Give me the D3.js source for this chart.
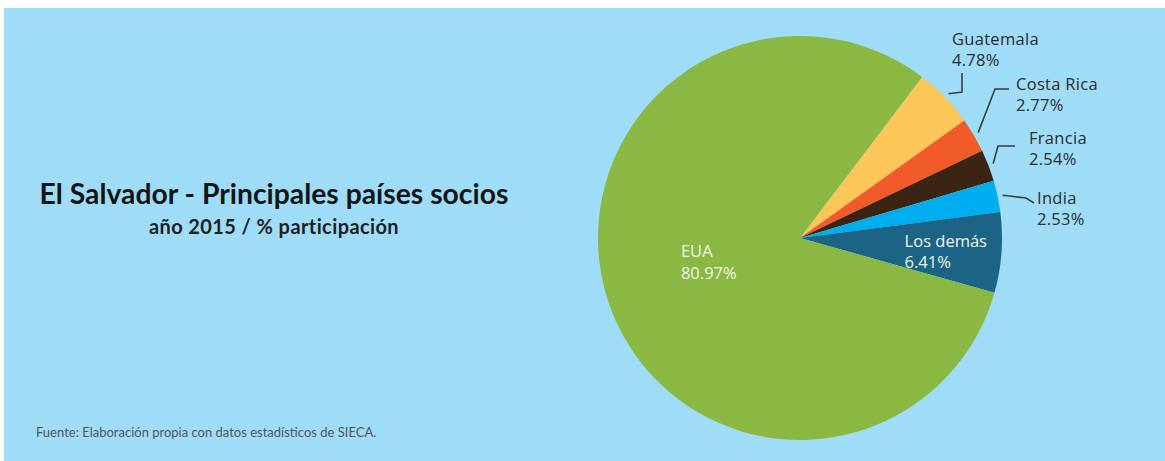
<!DOCTYPE html>
<html>
<head>
<meta charset="utf-8">
<script src="https://cdn.jsdelivr.net/npm/d3@7"></script>
<style>
  body { margin: 0; background: #fff; }
  svg { display: block; }
</style>
</head>
<body>
<div id="chart"></div>
<script>
const countries = ["Guatemala", "Costa Rica", "Francia", "India", "Los demás", "EUA"]
const shares = [4.78, 2.77, 2.54, 2.53, 6.41, 80.97]
const colors = ["#fdc659", "#f15a29", "#3c2415", "#00aeef", "#1b6486", "#8ab842"]

const title = "El Salvador - Principales países socios"
const subtitle = "año 2015 / % participación"
const source = "Fuente: Elaboración propia con datos estadísticos de SIECA."

const width = 1165, height = 461
const cx = 800, cy = 238, radius = 202

// where each label sits (outside ones get a leader line)
const labelLayout = [
  {x: 952, y: 45, outside: true, path: [[10, 47], [10, 28]]},
  {x: 1016, y: 90, outside: true, path: [[-21, -1], [-7, -1]]},
  {x: 1029, y: 144, outside: true, path: [[-31, 2], [-14, 2]]},
  {x: 1037, y: 204, outside: true, path: [[-11, -6], [-3, -1]]},
  {dx: -45, dy: -2, outside: false},
  {dx: -29, dy: -11, outside: false}
]

const data = countries.map((c, i) => ({name: c, value: shares[i], color: colors[i], layout: labelLayout[i]}))

const svg = d3.select("#chart").append("svg")
  .attr("width", width)
  .attr("height", height)
  .attr("viewBox", [0, 0, width, height])

svg.append("rect")
  .attr("x", 4).attr("y", 8)
  .attr("width", width - 4).attr("height", height - 8)
  .attr("fill", "#9edcf7")

const start = 37.2 * Math.PI / 180
const pie = d3.pie().sort(null).value(d => d.value)
  .startAngle(start).endAngle(start + 2 * Math.PI)
const arcs = pie(data)

const arc = d3.arc().innerRadius(0).outerRadius(radius)
const g = svg.append("g").attr("transform", `translate(${cx},${cy})`)

g.selectAll("path.slice")
  .data(arcs)
  .join("path")
  .attr("class", "slice")
  .attr("d", arc)
  .attr("fill", d => d.data.color)

const fmt = d => d3.format(".2f")(d) + "%"

// inner labels
const innerArc = d3.arc().innerRadius(0).outerRadius(d => d.data.name === "EUA" ? 190 : 300)
arcs.filter(d => !d.data.layout.outside).forEach(d => {
  const [x, y] = innerArc.centroid(d)
  const t = g.append("text")
    .attr("x", x + d.data.layout.dx)
    .attr("y", y + d.data.layout.dy)
    .attr("fill", "#f2f5e8")
    .style("font-family", "Open Sans")
    .style("font-size", "16.5px")
  t.append("tspan").attr("x", x + d.data.layout.dx).text(d.data.name)
  t.append("tspan").attr("x", x + d.data.layout.dx).attr("dy", "1.3em").text(fmt(d.data.value))
})

// outer labels with leader lines
const lineArc = d3.arc().innerRadius(radius + 5).outerRadius(radius + 5)
arcs.filter(d => d.data.layout.outside).forEach(d => {
  const l = d.data.layout
  const [sx, sy] = lineArc.centroid(d)
  const pts = [[sx + cx, sy + cy]].concat(l.path.map(p => [l.x + p[0], l.y + p[1]]))
  svg.append("path")
    .attr("d", d3.line()(pts))
    .attr("fill", "none")
    .attr("stroke", "#3d3d3d")
    .attr("stroke-width", 1.6)

  const t = svg.append("text")
    .attr("x", l.x).attr("y", l.y)
    .attr("fill", "#2b2b2b")
    .style("font-family", "Open Sans")
    .style("font-size", "16.5px")
    .style("letter-spacing", "0.3px")
  t.append("tspan").attr("x", l.x).text(d.data.name)
  t.append("tspan").attr("x", l.x).attr("dy", "1.3em").text(fmt(d.data.value))
})

svg.append("text")
  .attr("x", 274).attr("y", 204)
  .attr("text-anchor", "middle")
  .attr("fill", "#141414")
  .style("font-family", "Lato")
  .style("font-weight", "700")
  .style("font-size", "28.3px")
  .text(title)

svg.append("text")
  .attr("x", 274).attr("y", 234)
  .attr("text-anchor", "middle")
  .attr("fill", "#1e1e1e")
  .style("font-family", "Lato")
  .style("font-weight", "700")
  .style("font-size", "20px")
  .style("letter-spacing", "0.4px")
  .text(subtitle)

svg.append("text")
  .attr("x", 36).attr("y", 437)
  .attr("fill", "#555")
  .style("font-family", "Lato")
  .style("font-size", "13px")
  .text(source)
</script>
</body>
</html>
